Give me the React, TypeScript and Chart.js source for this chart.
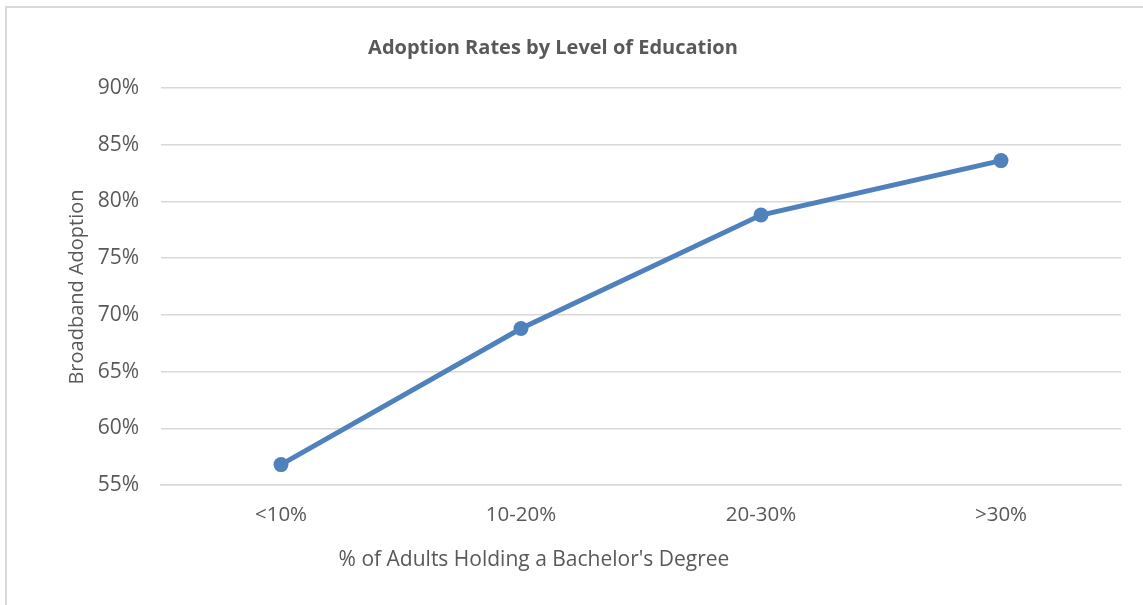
import React, { useEffect, useRef } from "react";
import { Chart, registerables } from "chart.js";

Chart.register(...registerables);

const categories = ["<10%", "10-20%", "20-30%", ">30%"];
const adoption = [0.568, 0.688, 0.788, 0.836];
const yMin = 0.55;
const yMax = 0.9;
const yStep = 0.05;
const chartTitle = "Adoption Rates by Level of Education";
const xTitle = "% of Adults Holding a Bachelor's Degree";
const yTitle = "Broadband Adoption";

const FONT = "'Open Sans', 'Noto Sans', sans-serif";
const TEXT = "#595959";

const titlesPlugin = {
  id: "customTitles",
  afterDraw(chart: any) {
    const ctx = chart.ctx;
    ctx.save();
    ctx.fillStyle = TEXT;
    ctx.textAlign = "center";
    ctx.textBaseline = "middle";
    ctx.font = `bold 20px ${FONT}`;
    ctx.fillText(chartTitle, 553, 48);
    ctx.font = `21px ${FONT}`;
    ctx.fillText(xTitle, 534, 560);
    ctx.translate(77, 287);
    ctx.rotate(-Math.PI / 2);
    ctx.font = `20px ${FONT}`;
    ctx.fillText(yTitle, 0, 0);
    ctx.restore();
  },
};

export default function App() {
  const ref = useRef<HTMLCanvasElement | null>(null);
  useEffect(() => {
    if (!ref.current) return;
    const chart = new Chart(ref.current, {
      type: "line",
      data: {
        labels: categories,
        datasets: [
          {
            data: adoption,
            borderColor: "#4f81bd",
            backgroundColor: "#4f81bd",
            borderWidth: 5,
            pointRadius: 7.5,
            pointHoverRadius: 7.5,
            pointBackgroundColor: "#4f81bd",
            pointBorderWidth: 0,
            tension: 0,
          },
        ],
      },
      options: {
        animation: false,
        responsive: false,
        devicePixelRatio: 1,
        layout: { padding: { left: 0, right: 22, top: 88, bottom: 0 } },
        plugins: {
          legend: { display: false },
          title: { display: false },
          tooltip: { enabled: false },
        },
        scales: {
          x: {
            offset: true,
            grid: { display: false, drawTicks: false },
            border: { display: true, color: "#d9d9d9", width: 1.5 },
            ticks: {
              color: TEXT,
              font: { family: FONT, size: 20.5 },
              padding: 18,
              maxRotation: 0,
            },
            afterFit(scale: any) {
              scale.height = 120;
            },
          },
          y: {
            min: yMin,
            max: yMax,
            grid: { color: "#d9d9d9", lineWidth: 1.5, drawTicks: false },
            border: { display: false },
            ticks: {
              stepSize: yStep,
              color: TEXT,
              font: { family: FONT, size: 21 },
              padding: 22,
              callback: (v: any) => `${Math.round(Number(v) * 100)}%`,
            },
            afterFit(scale: any) {
              scale.width = 161;
            },
          },
        },
      },
      plugins: [titlesPlugin],
    });
    return () => chart.destroy();
  }, []);
  return (
    <div style={{ position: "fixed", left: 0, top: 0, width: 1143, height: 605, background: "#fff" }}>
      <div
        style={{
          position: "absolute",
          left: 5,
          top: 6,
          width: 1200,
          height: 700,
          borderLeft: "2px solid #d9d9d9",
          borderTop: "2px solid #d9d9d9",
        }}
      />
      <canvas ref={ref} width={1143} height={605} style={{ position: "absolute", left: 0, top: 0 }} />
    </div>
  );
}
